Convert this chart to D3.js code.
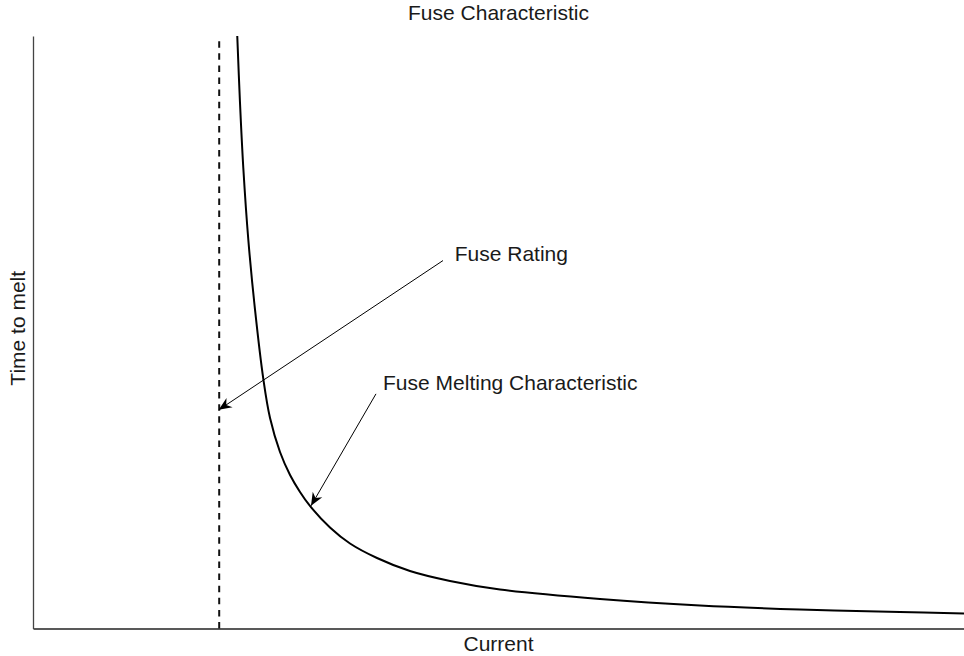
<!DOCTYPE html>
<html>
<head>
<meta charset="utf-8">
<script src="https://cdn.jsdelivr.net/npm/d3@7"></script>
<style>
  html, body { margin: 0; padding: 0; background: #fff; }
  svg { display: block; }
  text { font-family: "Liberation Sans", Arial, Helvetica, sans-serif; fill: #1a1a1a; }
</style>
</head>
<body>
<svg id="chart" width="964" height="656"></svg>
<script>
// Melting curve: current (arbitrary units) vs. time to melt (arbitrary units)
const current = [2.194, 2.223, 2.259, 2.313, 2.385, 2.474, 2.546, 2.653, 2.761, 2.868, 2.975, 3.19, 3.405, 3.695, 4.049, 4.479, 5.016, 6.09, 7.164, 8.238, 9.313, 10.0];
const meltTime = [10.0, 8.886, 7.772, 6.557, 5.376, 4.211, 3.553, 2.979, 2.591, 2.304, 2.068, 1.705, 1.435, 1.19, 0.97, 0.802, 0.658, 0.498, 0.388, 0.321, 0.278, 0.253];

// Rated current of the fuse (dashed asymptote)
const fuseRating = 2.0;
const ratingTop = 9.92;

// Axis extents
const currentDomain = [0, 10];
const timeDomain = [0, 10];

// Annotations: text, label anchor, arrow start and arrow tip (data units)
const notes = [
  { label: "Fuse Rating", text: [4.53, 6.20], from: [4.404, 6.21], to: [1.995, 3.69] },
  { label: "Fuse Melting Characteristic", text: [3.76, 4.03], from: [3.684, 3.96], to: [2.986, 2.07] }
];

const titleText = "Fuse Characteristic";
const xLabel = "Current";
const yLabel = "Time to melt";

const svg = d3.select("#chart");
const plotLeft = 33, plotRight = 964, plotTop = 36, plotBottom = 628.5;

const x = d3.scaleLinear().domain(currentDomain).range([plotLeft, plotRight]);
const y = d3.scaleLinear().domain(timeDomain).range([plotBottom, plotTop]);

// Axes: plain lines, no ticks
svg.append("g")
  .attr("transform", `translate(0,${plotBottom})`)
  .call(d3.axisBottom(x).ticks(0).tickSizeOuter(0))
  .call(g => g.select(".domain").attr("stroke", "#222").attr("stroke-width", 1.3));
svg.append("g")
  .attr("transform", `translate(${plotLeft},0)`)
  .call(d3.axisLeft(y).ticks(0).tickSizeOuter(0))
  .call(g => g.select(".domain").attr("stroke", "#444").attr("stroke-width", 1.3));

// Fuse rating: dashed vertical line
svg.append("line")
  .attr("x1", x(fuseRating)).attr("x2", x(fuseRating))
  .attr("y1", y(0)).attr("y2", y(ratingTop))
  .attr("stroke", "#111").attr("stroke-width", 2)
  .attr("stroke-dasharray", "6.5,5.6");

// Melting characteristic curve
const pts = current.map((c, i) => [c, meltTime[i]]);
const line = d3.line().x(d => x(d[0])).y(d => y(d[1])).curve(d3.curveCatmullRom.alpha(0.5));
svg.append("path")
  .datum(pts)
  .attr("d", line)
  .attr("fill", "none")
  .attr("stroke", "#000")
  .attr("stroke-width", 2);

// Arrowhead marker
svg.append("defs").append("marker")
  .attr("id", "head")
  .attr("viewBox", "-15 -7 16 14")
  .attr("refX", 0).attr("refY", 0)
  .attr("markerWidth", 16).attr("markerHeight", 14)
  .attr("markerUnits", "userSpaceOnUse")
  .attr("orient", "auto")
  .append("path")
  .attr("d", "M0,0 L-13,-5.5 L-9,0 L-13,5.5 Z")
  .attr("fill", "#000");

// Annotation arrows and labels
notes.forEach(n => {
  svg.append("line")
    .attr("x1", x(n.from[0])).attr("y1", y(n.from[1]))
    .attr("x2", x(n.to[0])).attr("y2", y(n.to[1]))
    .attr("stroke", "#000").attr("stroke-width", 1)
    .attr("marker-end", "url(#head)");
  svg.append("text")
    .attr("x", x(n.text[0])).attr("y", y(n.text[1]))
    .attr("font-size", 21)
    .text(n.label);
});

// Title and axis labels
svg.append("text")
  .attr("x", (plotLeft + plotRight) / 2).attr("y", 20)
  .attr("text-anchor", "middle").attr("font-size", 21)
  .text(titleText);
svg.append("text")
  .attr("x", (plotLeft + plotRight) / 2).attr("y", 651)
  .attr("text-anchor", "middle").attr("font-size", 21)
  .text(xLabel);
svg.append("text")
  .attr("transform", `translate(25,${(plotTop + plotBottom) / 2 - 4}) rotate(-90)`)
  .attr("text-anchor", "middle").attr("font-size", 21)
  .text(yLabel);
</script>
</body>
</html>
